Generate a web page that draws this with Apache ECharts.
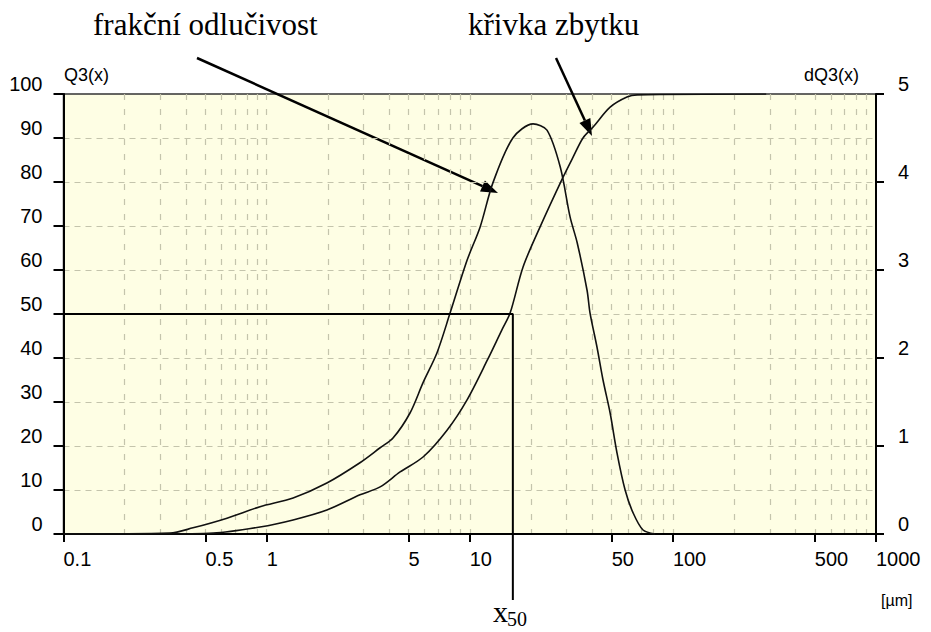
<!DOCTYPE html>
<html>
<head>
<meta charset="utf-8">
<title>Q3(x) / dQ3(x)</title>
<script src="https://cdn.jsdelivr.net/npm/echarts@6/dist/echarts.min.js"></script>
<style>
html,body{margin:0;padding:0;background:#fff;}
#chart{width:931px;height:632px;}
</style>
</head>
<body>
<div id="chart"></div>
<script>
// popisky osy x [um]
var xTicks = [0.1, 0.5, 1, 5, 10, 50, 100, 500, 1000];
var xGrid = [0.2, 0.3, 0.4, 0.5, 0.6, 0.7, 0.8, 0.9, 1,
	2, 3, 4, 5, 6, 7, 8, 9, 10,
	20, 30, 40, 50, 60, 70, 80, 90, 100,
	200, 300, 400, 500, 600, 700, 800, 900];
// krivka zbytku Q3(x) [%]
var q3Size = [0.1, 0.3, 0.545, 0.928, 1.35, 1.98, 2.88, 3.62, 4.54, 5.89, 7.73, 9.7, 12.2, 14.4, 15.8, 18.3, 22.2, 28.8, 32.3, 36.1, 40.5, 49.1, 59.4, 66.7, 288];
var q3Val = [0, 0, 0.2, 1.6, 3.2, 5.45, 8.9, 10.7, 14.1, 17.5, 23.6, 30.5, 39.5, 46.4, 50.2, 60.7, 69.8, 81.1, 85.7, 90, 92.5, 97, 99.3, 99.8, 100];
// frakcni odlucivost dQ3(x)
var dq3Size = [0.1, 0.334, 0.434, 0.638, 0.928, 1.35, 1.98, 2.88, 3.62, 4.19, 5.08, 5.89, 6.9, 8.0, 9.7, 11.25, 13.0, 16.3, 20.5, 24.0, 27.9, 31.2, 33.8, 37.8, 39.1, 42.3, 45.3, 49.1, 53.1, 58.2, 63.7, 71.3, 81.7];
var dq3Val = [0, 0.01, 0.07, 0.18, 0.31, 0.41, 0.58, 0.81, 0.98, 1.09, 1.375, 1.72, 2.06, 2.51, 3.11, 3.49, 3.99, 4.5, 4.66, 4.59, 4.17, 3.6, 3.31, 2.77, 2.51, 2.125, 1.75, 1.375, 0.92, 0.5, 0.24, 0.045, 0];
// median x50
var x50 = 16.3;
var x50Level = 50;

var NARROW = "'Liberation Sans Narrow', 'Arial Narrow', 'Liberation Sans', sans-serif";
var SERIF = "'Liberation Serif', 'Times New Roman', serif";
var GRIDCOL = '#c4c4ac';

function pairs(xs, ys){
	var out = [];
	for (var i = 0; i < xs.length; i++) out.push([xs[i], ys[i]]);
	return out;
}
// sipka k popisku
function arrow(x1, y1, x2, y2){
	var a = Math.atan2(y2 - y1, x2 - x1);
	var L = 17, w = 6;
	var bx = x2 - L * Math.cos(a), by = y2 - L * Math.sin(a);
	var px = -Math.sin(a) * w, py = Math.cos(a) * w;
	return [
		{type: 'line', shape: {x1: x1, y1: y1, x2: bx, y2: by}, style: {stroke: '#000', lineWidth: 2.5}},
		{type: 'polygon', shape: {points: [[x2, y2], [bx + px, by + py], [bx - px, by - py]]}, style: {fill: '#000'}}
	];
}

var myChart = echarts.init(document.getElementById('chart'), null, {renderer: 'svg'});
var graphics = [
	{type: 'text', left: 93, top: 9, style: {text: 'frakční odlučivost', font: '31px ' + SERIF, fill: '#000'}},
	{type: 'text', left: 468, top: 9, style: {text: 'křivka zbytku', font: '31px ' + SERIF, fill: '#000'}},
	{type: 'text', left: 64, top: 66, style: {text: 'Q3(x)', font: '18px ' + NARROW, fill: '#000'}},
	{type: 'text', left: 804, top: 66, style: {text: 'dQ3(x)', font: '18px ' + NARROW, fill: '#000'}},
	{type: 'text', left: 881, top: 592, style: {text: '[µm]', font: '16px ' + NARROW, fill: '#000'}},
	{type: 'text', left: 493, top: 596, style: {text: 'x', font: '30px ' + SERIF, fill: '#000'}},
	{type: 'text', left: 507, top: 609, style: {text: '50', font: '20px ' + SERIF, fill: '#000'}}
].concat(arrow(197, 58, 498, 193), arrow(556, 58, 592, 136));

var option = {
	animation: false,
	backgroundColor: '#fff',
	grid: {
		left: 63.5, right: 55, top: 94, bottom: 98,
		show: true, backgroundColor: '#fefee4', borderColor: '#333', borderWidth: 1.5
	},
	xAxis: [
		{
			type: 'log', logBase: 10, min: 0.1, max: 1000,
			axisLine: {show: true, onZero: false, lineStyle: {color: '#000', width: 2}},
			axisTick: {show: true, customValues: xTicks, length: 8, lineStyle: {color: '#000', width: 2}},
			axisLabel: {
				customValues: xTicks, align: 'left', margin: 15, color: '#000',
				fontFamily: NARROW, fontSize: 20,
				formatter: function (v) { return String(+(+v).toPrecision(6)); }
			},
			splitLine: {show: false}
		},
		{
			type: 'log', logBase: 10, min: 0.1, max: 1000,
			axisLine: {show: false},
			axisTick: {show: false, customValues: xGrid},
			axisLabel: {show: false},
			splitLine: {show: true, lineStyle: {color: GRIDCOL, width: 1.2, type: [6, 9]}}
		}
	],
	yAxis: [
		{
			type: 'value', min: 0, max: 100, interval: 10, position: 'left',
			axisLine: {show: true, onZero: false, lineStyle: {color: '#000', width: 2}},
			axisTick: {show: true, length: 10, lineStyle: {color: '#000', width: 2}},
			axisLabel: {margin: 21, color: '#000', fontFamily: NARROW, fontSize: 20, verticalAlign: 'bottom'},
			splitLine: {show: true, showMinLine: false, showMaxLine: false, lineStyle: {color: GRIDCOL, width: 1.2, type: [6, 5]}}
		},
		{
			type: 'value', min: 0, max: 5, interval: 1, position: 'right',
			axisLine: {show: true, onZero: false, lineStyle: {color: '#000', width: 2}},
			axisTick: {show: true, length: 8, lineStyle: {color: '#000', width: 2}},
			axisLabel: {margin: 22, color: '#000', fontFamily: NARROW, fontSize: 20, verticalAlign: 'bottom'},
			splitLine: {show: false}
		}
	],
	series: [
		{
			name: 'Q3(x)', type: 'line', xAxisIndex: 0, yAxisIndex: 0,
			data: pairs(q3Size, q3Val), smooth: 0.3, showSymbol: false, symbol: 'none',
			lineStyle: {color: '#111', width: 1.6}, z: 5
		},
		{
			name: 'dQ3(x)', type: 'line', xAxisIndex: 0, yAxisIndex: 1,
			data: pairs(dq3Size, dq3Val), smooth: 0.3, showSymbol: false, symbol: 'none',
			lineStyle: {color: '#111', width: 1.6}, z: 5
		},
		{
			name: 'x50', type: 'line', xAxisIndex: 0, yAxisIndex: 0, clip: false,
			data: [[0.1, x50Level], [x50, x50Level], [x50, -15]],
			showSymbol: false, symbol: 'none',
			lineStyle: {color: '#000', width: 2}, z: 6
		}
	],
	graphic: graphics
};
myChart.setOption(option);
</script>
</body>
</html>
